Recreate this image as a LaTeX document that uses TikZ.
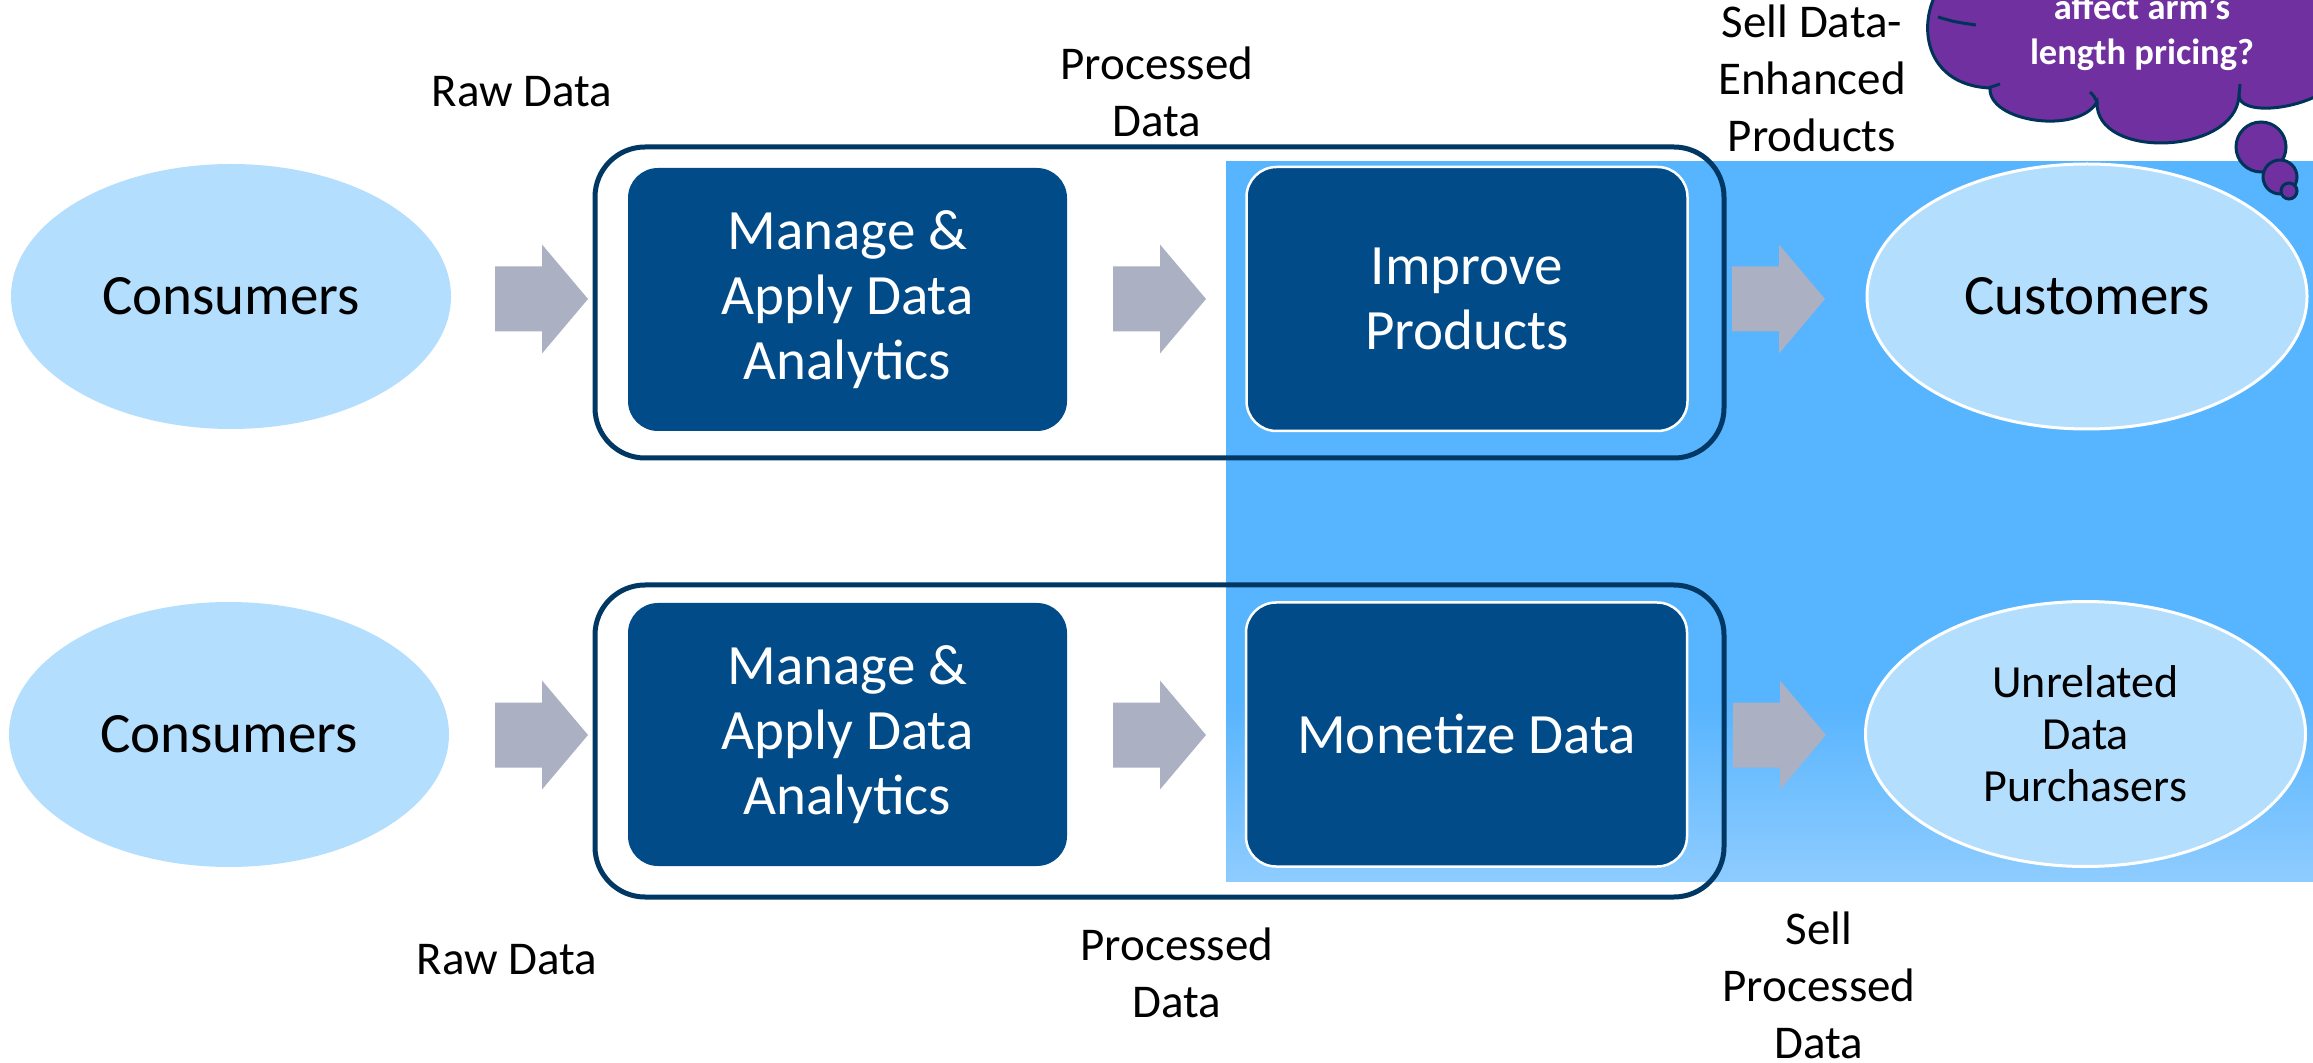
\documentclass[tikz,border=0pt]{standalone}
\usepackage{fontspec}
\setmainfont{Carlito}
\usetikzlibrary{shapes.geometric}
\definecolor{lightell}{HTML}{B4DEFE}
\definecolor{darkbox}{HTML}{024B89}
\definecolor{groupline}{HTML}{003763}
\definecolor{arrowc}{HTML}{ABB0C3}
\definecolor{bgblue}{HTML}{57B4FE}
\definecolor{bglight}{HTML}{8ECCFF}
\definecolor{cloudpurple}{HTML}{7030A0}
\definecolor{cloudline}{HTML}{003359}
\newcommand\blockarrow[2]{%
  \fill[arrowc] (#1,#2-32.5) -- ++(47,0) -- ++(0,-22) -- ++(46,54.5) -- ++(-46,54.5) -- ++(0,-22) -- ++(-47,0) -- cycle;}
\begin{document}
\begin{tikzpicture}[x=0.5pt,y=-0.5pt,
  ell/.style={ellipse, fill=lightell, minimum width=220pt, minimum height=132.5pt, inner sep=0pt, align=center, font=\fontsize{28.5}{32.5}\selectfont},
  ellw/.style={ell, draw=white, line width=1.5pt},
  dbox/.style={rounded corners=15pt, fill=darkbox, text=white, minimum width=219.5pt, minimum height=131.5pt, inner sep=0pt, align=center, font=\fontsize{28.5}{32.5}\selectfont},
  dboxw/.style={dbox, draw=white, line width=1.25pt, minimum width=220.5pt, minimum height=132pt},
  grp/.style={draw=groupline, line width=2.5pt, rounded corners=25pt, minimum width=564.5pt, inner sep=0pt},
  lbl/.style={font=\fontsize{23.5}{28.5}\selectfont, align=center, anchor=base},
  bubble/.style={circle, fill=cloudpurple, draw=cloudline, line width=1.5pt, inner sep=0pt},
]
\useasboundingbox (0,0) rectangle (2313,1063);
\clip (0,0) rectangle (2313,1063);

% blue background
\fill[bgblue] (1226,161) rectangle (2313,881);
\shade[top color=bgblue, bottom color=bglight] (1226,700) rectangle (2313,881);

% group boxes
\node[grp, minimum height=155.5pt] (g1) at (1159.5,302.5) {};
\node[grp, minimum height=156pt] (g2) at (1159.5,741) {};

% top row
\node[ell] (cons1) at (231,296.5) {Consumers};
\node[dbox] (man1) at (847.5,299.5) {Manage \&\\Apply Data\\Analytics};
\node[dboxw] (imp) at (1467,299) {Improve\\Products};
\node[ellw] (cust) at (2087,296.5) {Customers};

% bottom row
\node[ell] (cons2) at (229,734.5) {Consumers};
\node[dbox] (man2) at (847.5,734.5) {Manage \&\\Apply Data\\Analytics};
\node[dboxw] (mon) at (1466.5,734.5) {Monetize Data};
\node[ellw, font=\fontsize{23}{26}\selectfont] (unrel) at (2085.5,734) {Unrelated\\Data\\Purchasers};

% block arrows
\blockarrow{495}{299}
\blockarrow{1113}{299}
\blockarrow{1732}{299}
\blockarrow{495}{735}
\blockarrow{1113}{735}
\blockarrow{1733}{735}

% labels
\node[lbl] (raw1) at (522,107) {Raw Data};
\node[lbl] (proc1) at (1157,137) {Processed\\Data};
\node[lbl] (sell1) at (1812,152) {Sell Data-\\Enhanced\\Products};
\node[lbl] (raw2) at (507,974) {Raw Data};
\node[lbl] (proc2) at (1177,1017) {Processed\\Data};
\node[lbl] (sell2) at (1819,1058) {Sell\\Processed\\Data};

% thought cloud
\filldraw[fill=cloudpurple, draw=cloudline, line width=1.5pt]
  (1945,-20) .. controls (1915,15) and (1920,85) .. (1990,88)
  .. controls (1988,122) and (2078,135) .. (2097,102)
  .. controls (2095,160) and (2235,155) .. (2239,96)
  .. controls (2240,115) and (2300,112) .. (2335,85)
  -- (2335,-20) -- cycle;
\draw[cloudline, line width=1.5pt] (1938,17) .. controls (1955,22) .. (1976,25);
\draw[cloudline, line width=1.5pt] (1988,88) -- (2000,84);
\draw[cloudline, line width=1.5pt] (2097,102) .. controls (2094,96) .. (2090,92);
\draw[cloudline, line width=1.5pt] (2239,96) -- (2240,84);
\node[text=white, font=\bfseries\fontsize{18.25}{22.5}\selectfont, align=center, anchor=base] (cloudtxt) at (2142,65) {affect arm’s\\length pricing?};

% thought bubbles
\node[bubble, minimum size=25pt] (b1) at (2261,147) {};
\node[bubble, minimum size=17pt] (b2) at (2280,177) {};
\node[bubble, minimum size=8pt] (b3) at (2289,191) {};
\end{tikzpicture}
\end{document}
